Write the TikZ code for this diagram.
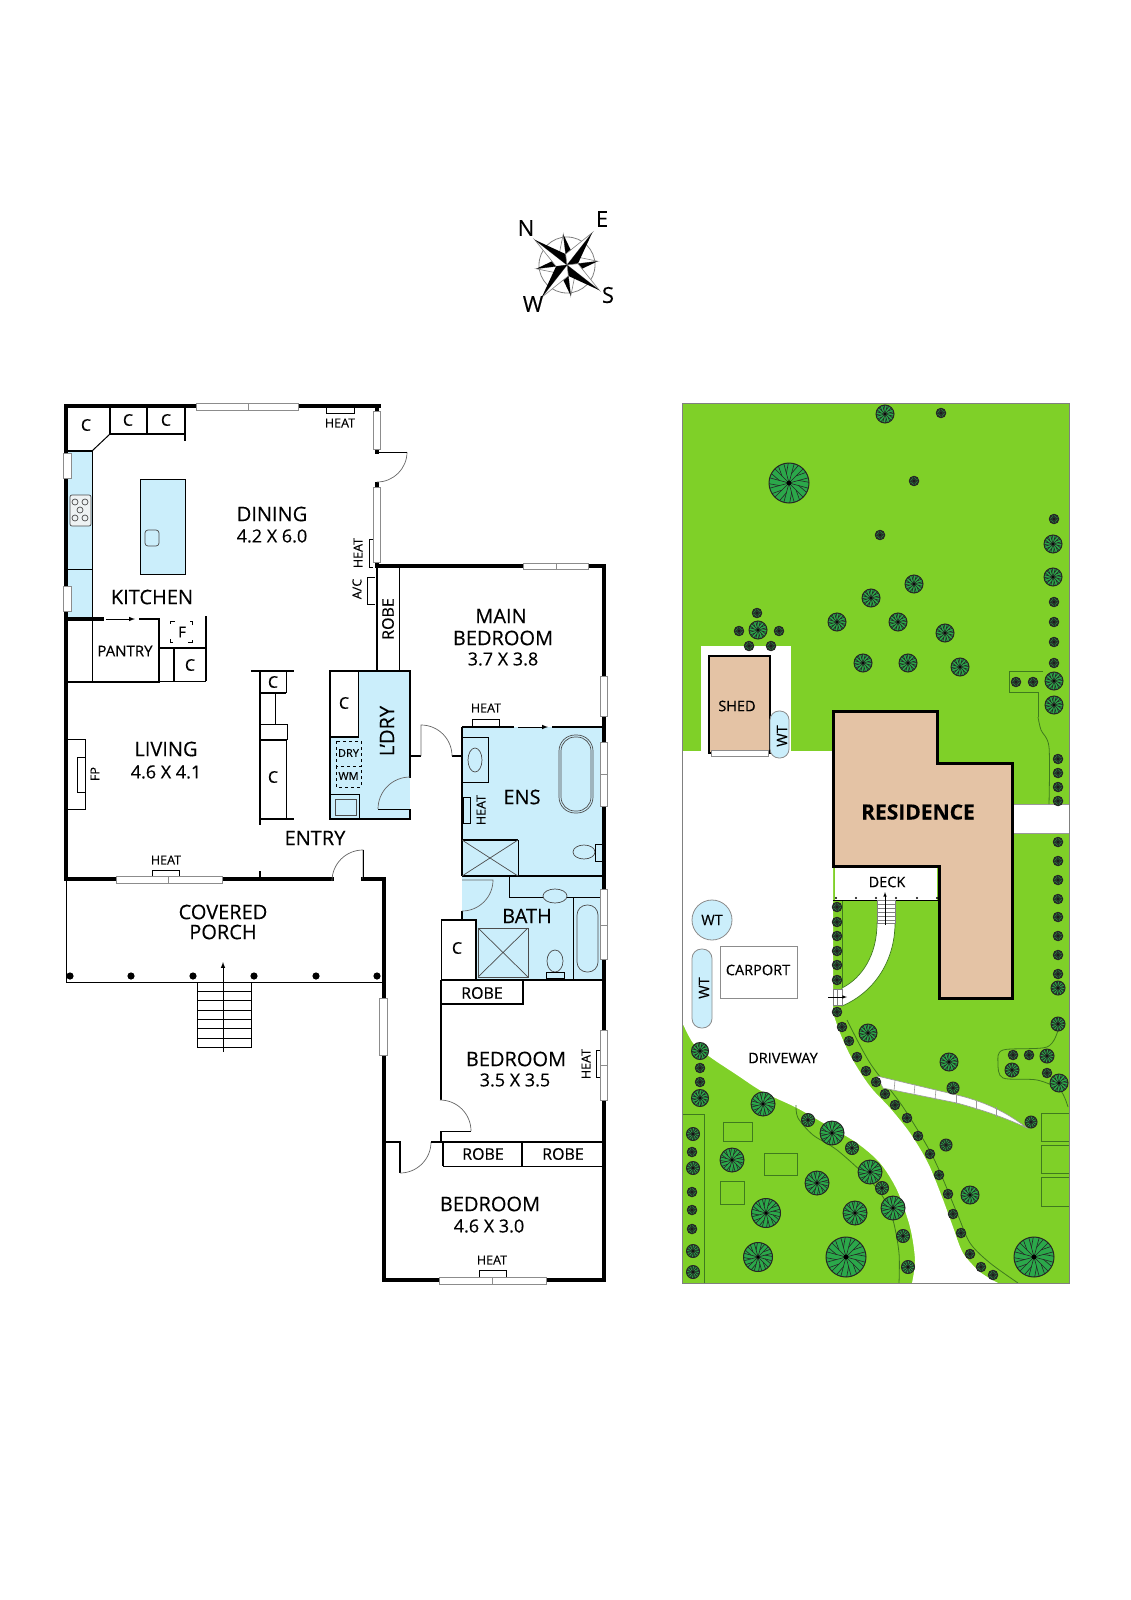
\documentclass[tikz,border=0pt]{standalone}
\usepackage{fontspec}
\setmainfont{Open Sans}[FakeBold=0.3]
\usepackage{xcolor}
\usetikzlibrary{arrows}
\definecolor{wetblue}{HTML}{CBEEFB}
\definecolor{lawngreen}{HTML}{7FD028}
\definecolor{treegreen}{HTML}{2BA84A}
\definecolor{roofbrown}{HTML}{E4C3A5}
\definecolor{edgegreen}{HTML}{3F7A1E}
\tikzset{
  roomlabel/.style={font=\fontsize{20}{20}\selectfont},
  dimlabel/.style={font=\fontsize{18}{18}\selectfont},
  fitlabel/.style={font=\fontsize{16}{16}\selectfont},
  smalllabel/.style={font=\fontsize{12.5}{12.5}\selectfont},
  sitelabel/.style={font=\fontsize{14.5}{14.5}\selectfont},
  wall/.style={line width=3.6pt,line cap=rect},
  midwall/.style={line width=1.9pt},
  thinwall/.style={line width=1pt},
  fixture/.style={line width=0.7pt,draw=black!70},
  windowbox/.style={fill=white,draw=black!45,line width=0.8pt},
  doorswing/.style={line width=0.7pt,draw=black!60},
  bedline/.style={line width=0.8pt,draw=edgegreen},
  treeline/.style={line width=0.6pt,draw=black!85}
}
\newcommand{\planttree}[3]{
  \fill[treegreen] (#1,#2) circle (#3);
  \foreach \a in {15,45,...,345} {
    \draw[treeline] (#1,#2) -- +(\a:#3);
    \draw[treeline] (#1,#2) +(\a:0.5*#3) -- +(\a+13:#3);
  }
  \draw[line width=1pt,draw=black!85] (#1,#2) circle (#3);
  \fill[black] (#1,#2) circle (0.12*#3);
}
\begin{document}
\begin{tikzpicture}[x=1pt,y=-1pt]
\useasboundingbox (0,0) rectangle (1131,1600);

% Compass
\begin{scope}[shift={(567,265)}]
\draw[black!50,line width=0.8pt] (0,0) circle (28);
\foreach \a in {-97,-7,83,173} {
    \filldraw[fill=white,draw=black!50,line width=0.6pt] (0,0) -- (\a:31) -- (\a-45:11) -- cycle;
    \fill[black] (0,0) -- (\a:31) -- (\a+45:11) -- cycle;
}
\foreach \a in {-142,-52,38,128} {
    \filldraw[fill=white,draw=black!50,line width=0.6pt] (0,0) -- (\a:41) -- (\a-45:11) -- cycle;
    \fill[black] (0,0) -- (\a:41) -- (\a+45:11) -- cycle;
}
\end{scope}
\node[font=\fontsize{22}{22}\selectfont] (northmark) at (526,228) {N};
\node[font=\fontsize{22}{22}\selectfont] (eastmark) at (602,219) {E};
\node[font=\fontsize{22}{22}\selectfont] (southmark) at (608,295) {S};
\node[font=\fontsize{22}{22}\selectfont] (westmark) at (533,304) {W};

% Wet areas
\fill[wetblue] (68,451) rectangle (92,618);
\filldraw[fill=wetblue,thinwall] (140,479) rectangle (185,574);
\fill[wetblue] (330,671) rectangle (410,819);
\fill[wetblue] (462,727) rectangle (604,876);
\fill[wetblue] (462,876) rectangle (604,980);
\fill[wetblue] (462,880) -- (493,880) arc[start angle=0,end angle=90,radius=31] -- cycle;

% Kitchen
\draw[thinwall] (92,451) -- (92,682);
\draw[thinwall] (68,569) -- (92,569);
\draw[midwall] (66,451) -- (92,451);
\draw[thinwall] (92,451) -- (110,434);
\draw[line width=1.4pt] (110,434) -- (185,434);
\draw[line width=1.4pt] (110,406) -- (110,434);
\draw[line width=1.4pt] (147,406) -- (147,434);
\draw[midwall] (185,406) -- (185,441);
\filldraw[fill=wetblue!70!black!15,fixture,rounded corners=2pt] (70,495) rectangle (91,526);
\foreach \x/\y in {75/502, 85/502, 80/510, 75/518, 85/518} {
    \draw[fixture] (\x,\y) circle (3);
}
\draw[fixture,rounded corners=3pt] (145,530) rectangle (159,546);
\node[roomlabel] (kitchen) at (152,597) {KITCHEN};
\node[roomlabel] (dining) at (272,514) {DINING};
\node[dimlabel] (diningsize) at (272,536) {4.2 X 6.0};
\node[fitlabel] (cupa) at (86,425) {C};
\node[fitlabel] (cupb) at (128,420) {C};
\node[fitlabel] (cupc) at (166,420) {C};

% Pantry
\draw[wall] (66,619) -- (102,619);
\draw[midwall] (139,619) -- (159,619) -- (159,682) -- (66,682);
\draw[thinwall,-latex] (106,619) -- (135,619);
\draw[midwall] (159,648) -- (206,648);
\draw[midwall] (206,616) -- (206,681);
\draw[midwall] (174,648) -- (174,682);
\draw[thinwall] (159,681) -- (206,681);
\draw[thinwall,dash pattern=on 3pt off 15pt on 3pt off 0pt] (170,621) rectangle (192,642);
\node[fitlabel,font=\fontsize{15}{15}\selectfont] (pantry) at (125,651) {PANTRY};
\node[fitlabel,font=\fontsize{15}{15}\selectfont] (fridge) at (182,632) {F};
\node[fitlabel] (cupd) at (190,665) {C};

% Living
\draw[thinwall] (66,739) rectangle (85,809);
\draw[thinwall] (77,757) rectangle (85,792);
\node[smalllabel,rotate=90] (fireplace) at (95,774) {FP};
\node[roomlabel] (living) at (166,749) {LIVING};
\node[dimlabel] (livingsize) at (166,772) {4.6 X 4.1};
\node[roomlabel] (entry) at (315,838) {ENTRY};
\draw[midwall] (251,671) -- (294,671);
\draw[midwall] (260,671) -- (260,825);
\draw[thinwall] (286,671) -- (286,693);
\draw[midwall] (260,693) -- (286,693);
\draw[thinwall] (275,693) -- (275,724);
\draw[thinwall] (260,724) -- (287,724) -- (287,740);
\draw[midwall] (260,740) -- (287,740);
\draw[thinwall] (286,740) -- (286,819);
\draw[midwall] (260,819) -- (294,819);
\draw[midwall] (260,871) -- (260,879);
\node[fitlabel] (cupe) at (273,682) {C};
\node[fitlabel] (cupf) at (273,777) {C};

% Laundry
\draw[thinwall,fill=white] (330,671) rectangle (358,737);
\draw[midwall] (330,737) -- (358,737);
\draw[midwall] (358,671) -- (330,671) -- (330,819) -- (410,819) -- (410,809);
\draw[midwall] (358,671) -- (410,671) -- (410,778);
\draw[line width=0.9pt,dash pattern=on 3pt off 3pt] (336,741) rectangle (361,766);
\draw[line width=0.9pt,dash pattern=on 3pt off 3pt] (336,766) rectangle (361,787);
\draw[thinwall] (330,794) rectangle (359,819);
\draw[fixture] (335,799) rectangle (356,815);
\draw[thinwall] (378,809) -- (410,809);
\draw[doorswing] (378,809) arc[start angle=180,end angle=270,radius=32];
\node[roomlabel,rotate=90] (laundry) at (387,731) {L’DRY};
\node[fitlabel] (cupg) at (344,703) {C};
\node[font=\fontsize{11}{11}\selectfont] (dryer) at (348.5,753) {DRY};
\node[font=\fontsize{11}{11}\selectfont] (washer) at (348.5,776) {WM};
\draw[midwall] (377,670) -- (377,566);
\draw[thinwall] (399,566) -- (399,670);
\node[fitlabel,rotate=90] (robea) at (388,619) {ROBE};

% Ensuite
\draw[midwall] (462,727) -- (514,727);
\draw[midwall] (552,727) -- (604,727);
\draw[thinwall,-latex] (518,727) -- (548,727);
\draw[midwall] (462,727) -- (462,876);
\draw[midwall] (462,876) -- (604,876);
\draw[thinwall] (472,727) -- (472,719) -- (499,719) -- (499,727);
\node[smalllabel] (heatens) at (486,708) {HEAT};
\draw[thinwall] (462,737) rectangle (488,782);
\draw[fixture] (475,760) ellipse (7 and 12);
\draw[fixture,rounded corners=16pt] (559,735) rectangle (593,813);
\draw[fixture,rounded corners=14pt] (561,737) rectangle (591,811);
\node[roomlabel] (ens) at (522,797) {ENS};
\draw[thinwall] (463,797) rectangle (470,823);
\node[smalllabel,rotate=90] (heatensb) at (481,810) {HEAT};
\draw[midwall] (462,840) -- (518,840);
\draw[thinwall] (518,840) -- (518,876);
\draw[fixture] (462,840) -- (518,876) (462,876) -- (518,840);
\filldraw[fill=wetblue,fixture] (584,852) ellipse (11 and 7);
\draw[thinwall] (595,844) rectangle (602,861);

% Bath
\draw[midwall] (462,911) -- (462,920);
\draw[doorswing] (462,880) -- (493,880) arc[start angle=0,end angle=90,radius=31];
\draw[thinwall] (509,876) -- (509,897) -- (604,897);
\filldraw[fill=wetblue,fixture] (555,896) ellipse (12 and 7);
\draw[thinwall] (573,897) -- (573,979);
\draw[fixture,rounded corners=10pt] (577,905) rectangle (598,972);
\draw[thinwall,fill=white] (441,920) rectangle (476,979);
\draw[midwall] (441,920) -- (476,920) -- (476,979);
\draw[fixture] (478,928) rectangle (528,977);
\draw[fixture] (478,928) -- (528,977) (478,977) -- (528,928);
\filldraw[fill=wetblue,fixture] (555,961) ellipse (8 and 11);
\draw[thinwall] (546,972) rectangle (564,978);
\node[roomlabel] (bath) at (527,916) {BATH};
\node[fitlabel] (cuph) at (457,948) {C};

% Bedrooms
\draw[midwall] (441,980) -- (604,980);
\draw[midwall] (441,980) -- (441,1100);
\draw[midwall] (441,1004) -- (523,1004) -- (523,980);
\draw[midwall] (441,1131) -- (441,1142);
\draw[thinwall] (441,1131) -- (471,1131);
\draw[doorswing] (471,1131) arc[start angle=0,end angle=-90,radius=31];
\draw[midwall] (384,1142) -- (400,1142) -- (400,1173);
\draw[doorswing] (400,1173) arc[start angle=90,end angle=0,radius=31];
\draw[midwall] (431,1142) -- (604,1142);
\draw[midwall] (443,1142) -- (443,1166);
\draw[midwall] (522,1142) -- (522,1166);
\draw[thinwall] (443,1166) -- (604,1166);
\node[fitlabel] (robeb) at (482,993) {ROBE};
\node[fitlabel] (robec) at (483,1154) {ROBE};
\node[fitlabel] (robed) at (563,1154) {ROBE};
\node[roomlabel] (bedroomb) at (516,1059) {BEDROOM};
\node[dimlabel] (bedroombsize) at (515,1080) {3.5 X 3.5};
\node[roomlabel] (bedroomc) at (490,1204) {BEDROOM};
\node[dimlabel] (bedroomcsize) at (489,1226) {4.6 X 3.0};
\node[roomlabel] (mainb) at (501,616) {MAIN};
\node[roomlabel] (mainbb) at (503,638) {BEDROOM};
\node[dimlabel] (mainsize) at (503,659) {3.7 X 3.8};
\node[smalllabel,rotate=90] (heatbed) at (586,1064) {HEAT};
\draw[thinwall] (600,1050) -- (596,1050) -- (596,1077) -- (600,1077);
\node[smalllabel] (heatbedc) at (492,1260) {HEAT};
\draw[thinwall] (479,1278) -- (479,1270) -- (506,1270) -- (506,1278);

% Outer walls
\draw[wall] (379,406) -- (66,406) -- (66,879) -- (332,879);
\draw[wall] (363,879) -- (384,879) -- (384,1280) -- (604,1280) -- (604,566) -- (377,566);
\draw[wall] (377,406) -- (377,409);
\draw[wall] (377,450) -- (377,452);
\draw[wall] (377,484) -- (377,486);
\draw[wall] (377,560) -- (377,566);
\draw[midwall] (410,756) -- (421,756);
\draw[midwall] (452,756) -- (462,756);
\draw[doorswing] (421,756) -- (421,725) arc[start angle=-90,end angle=0,radius=31];
\draw[doorswing] (407,452) arc[start angle=0,end angle=90,radius=30];
\draw[thinwall] (377,452) -- (407,452);
\draw[doorswing] (363,879) -- (363,850) arc[start angle=-90,end angle=-180,radius=31];
\draw[thinwall] (363,850) -- (363,879);

% Windows
\foreach \xa/\ya/\xb/\yb in {196/403/248/410, 248/403/298/410, 373/411/380/449, 373/487/380/562,
    63/453/71/478, 63/586/71/611, 523/563/556/569, 556/563/588/569, 600/676/607/716,
    600/742/607/774, 600/774/607/806, 600/889/607/925, 600/925/607/959, 600/1030/607/1065, 600/1065/607/1100,
    379/998/387/1055, 116/876/168/883, 168/876/222/883, 439/1277/492/1284, 492/1277/546/1284} {
    \filldraw[windowbox] (\xa,\ya) rectangle (\xb,\yb);
}
\draw[thinwall] (326,406) -- (326,413) -- (354,413) -- (354,406);
\node[smalllabel] (heatdining) at (340,423) {HEAT};
\draw[thinwall] (373,539) -- (369,539) -- (369,567) -- (373,567);
\node[smalllabel,rotate=90] (heatdiningb) at (358,553) {HEAT};
\draw[thinwall] (375,577) -- (367,577) -- (367,604) -- (375,604);
\node[smalllabel,rotate=90] (aircon) at (357,589) {A/C};
\draw[thinwall] (152,876) -- (152,870) -- (179,870) -- (179,876);
\node[smalllabel] (heatliving) at (166,860) {HEAT};

% Porch
\draw[thinwall] (66,879) -- (66,982) -- (384,982);
\foreach \x in {70,131,193,254,316,377} {
    \fill[black] (\x,976) circle (3.6);
}
\node[roomlabel] (covered) at (223,912) {COVERED};
\node[roomlabel] (porch) at (223,932) {PORCH};
\draw[thinwall] (197,982) rectangle (251,1047);
\foreach \y in {991,1000,1010,1019,1028,1038} {
    \draw[thinwall] (197,\y) -- (251,\y);
}
\draw[thinwall,-latex] (223,1052) -- (223,962);

% Site
\fill[lawngreen] (682,403) rectangle (1069,1283);
\fill[white] (701,646) rectangle (791,752);
\fill[white] (682,751) -- (833,751) -- (833,1013)
    -- plot[smooth] coordinates {(833,1013) (840,1033) (850,1055) (862,1075) (873,1090) (890,1108) (910,1133) (928,1163) (942,1197) (953,1227) (963,1253) (980,1272) (998,1283)}
    -- plot[smooth] coordinates {(912,1283) (915,1260) (910,1227) (897,1190) (880,1163) (857,1143) (830,1127) (797,1108) (763,1092) (737,1075) (710,1057) (693,1043) (682,1022)}
    -- cycle;
\filldraw[fill=white,draw=black!40,thinwall] (1013,804) rectangle (1069,833);

% Beds
\draw[bedline] plot[smooth] coordinates {(796,1105) (798,1118) (813,1135) (837,1150) (867,1177) (883,1197) (893,1220) (899,1253) (899,1283)};
\draw[bedline] plot[smooth] coordinates {(847,1020) (870,1063) (903,1107) (933,1157) (957,1213) (970,1243) (990,1263) (1018,1283)};
\draw[bedline] plot[smooth] coordinates {(1058,1030) (1047,1047) (1003,1050) (998,1063) (1003,1078) (1037,1080) (1060,1090) (1068,1107)};
\draw[bedline] (1043,671) -- (1009,671) -- (1009,692) -- (1038,692) -- (1038,717);
\draw[bedline] plot[smooth] coordinates {(1038,717) (1041,730) (1049,747) (1049,804)};
\draw[bedline] (682,1114) -- (704,1114) -- (704,1283);
\foreach \xa/\ya/\xb/\yb in {723/1122/752/1141, 764/1153/797/1175, 720/1181/744/1204,
    1041/1113/1069/1141, 1041/1145/1069/1173, 1041/1177/1069/1206} {
    \draw[bedline] (\xa,\ya) rectangle (\xb,\yb);
}
\draw[bedline] (842,900) -- (842,988);
\filldraw[fill=white,draw=black!40,line width=0.6pt] (877,1076) -- (957,1095) .. controls (990,1103) and (1010,1115) .. (1027,1128) .. controls (1010,1120) and (990,1112) .. (957,1103) -- (883,1088) -- cycle;
\foreach \xa/\ya/\xb/\yb in {895/1080/894/1091, 915/1084/914/1095, 936/1089/935/1100, 956/1095/956/1104, 976/1101/976/1110, 996/1107/996/1117} {
    \draw[black!40,line width=0.6pt] (\xa,\ya) -- (\xb,\yb);
}

% Trees
\foreach \tx/\ty/\tr in {885/414/9, 941/413/4.7, 789/483/20, 914/481/4.7, 880/535/4.7, 1054/519/4.7, 1053/544/9, 1053/577/9,
    914/584/9, 871/598/9, 837/622/9, 898/622/9, 945/633/9, 863/663/9, 908/663/9, 960/667/9,
    1054/602/4.7, 1054/622/4.7, 1054/642/4.7, 1054/663/4.7, 1054/681/9, 1054/705/9, 1016/682/4.7, 1033/682/4.7,
    758/630/9, 757/613/4.7, 739/631/4.7, 779/631/4.7, 749/646/4.7, 771/646/4.7,
    1058/759/4.7, 1058/773/4.7, 1058/787/4.7, 1058/801/4.7, 1058/842/4.7, 1058/861/4.7, 1058/880/4.7, 1058/899/4.7,
    1058/917/4.7, 1058/936/4.7, 1058/955/4.7, 1058/974/4.7, 1058/988/7, 1058/1024/7,
    837/907/4.7, 837/922/4.7, 837/936/4.7, 837/951/4.7, 837/965/4.7, 837/980/4.7,
    837/1012/4.7, 842/1027/4.7, 849/1041/4.7, 857/1057/4.7, 866/1071/4.7, 876/1082/4.7, 885/1094/4.7, 895/1105/4.7,
    907/1118/4.7, 918/1136/4.7, 930/1154/4.7, 939/1175/4.7, 948/1194/4.7, 953/1214/4.7, 961/1233/4.7, 970/1254/4.7,
    981/1267/4.7, 993/1275/4.7, 868/1033/9, 949/1062/9, 953/1088/6, 1031/1122/6, 946/1145/6, 970/1195/9, 1034/1257/20,
    1013/1055/4.7, 1029/1055/4.7, 1047/1056/7, 1012/1070/7, 1047/1073/4.7, 1059/1083/9,
    700/1051/8.5, 700/1068/4.7, 700/1082/4.7, 700/1098/8.5, 693/1134/6.5, 692/1152/4.7, 693/1168/6.5, 692/1192/4.7,
    692/1210/4.7, 692/1229/4.7, 693/1251/6.5, 693/1272/6.5, 763/1104/12, 808/1120/6.5, 832/1133/12, 852/1148/6.5,
    732/1160/12, 817/1183/12, 870/1172/12, 882/1188/6.5, 893/1208/12, 766/1213/14.5, 855/1213/12, 903/1236/6.5,
    758/1257/14.5, 846/1257/20, 908/1267/6.5} {
    \planttree{\tx}{\ty}{\tr}
}
\draw[black!50,line width=1pt] (682,403) rectangle (1069,1283);

% Buildings
\filldraw[fill=roofbrown,draw=black,line width=3pt] (833,711) -- (937,711) -- (937,763) -- (1012,763) -- (1012,998) -- (939,998) -- (939,866) -- (833,866) -- cycle;
\filldraw[fill=roofbrown,draw=black,line width=1.5pt] (709,656) rectangle (770,753);
\filldraw[windowbox] (711,750) rectangle (768,756);
\node[font=\fontsize{21}{21}\selectfont\bfseries] (residence) at (918,812) {RESIDENCE};
\node[sitelabel] (shed) at (737,706) {SHED};
\filldraw[fill=wetblue,draw=black!45,line width=0.8pt,rounded corners=9pt] (770,711) rectangle (789,758);
\node[sitelabel,rotate=90] (wta) at (782,736) {WT};
\filldraw[fill=wetblue,draw=black!45,line width=0.8pt] (712,920) circle (20);
\node[sitelabel] (wtb) at (712,920) {WT};
\filldraw[fill=wetblue,draw=black!45,line width=0.8pt,rounded corners=9.5pt] (692,949) rectangle (712,1028);
\node[sitelabel,rotate=90] (wtc) at (704,988) {WT};
\filldraw[fill=white,draw=black!45,line width=0.8pt] (720,946) rectangle (797,998);
\node[sitelabel] (carport) at (758,970) {CARPORT};
\node[sitelabel] (driveway) at (783,1058) {DRIVEWAY};

% Deck
\fill[white] (835,868) rectangle (937,900);
\draw[black,line width=0.6pt] (833,900) -- (939,900);
\node[sitelabel] (deck) at (887,882) {DECK};
\foreach \x in {836,856,876,896,917,937} {
    \fill[black] (\x,898) circle (1.1);
}
\filldraw[fill=white,draw=edgegreen,line width=0.7pt] (877,923) .. controls (877,955) and (862,978) .. (842,988) -- (842,1006) .. controls (875,992) and (895,960) .. (895,923) -- cycle;
\filldraw[fill=white,draw=black!50,line width=0.6pt] (877,900) rectangle (895,923);
\foreach \y in {904,908,912,916,920} {
    \draw[black!50,line width=0.6pt] (877,\y) -- (895,\y);
}
\draw[line width=0.6pt,-latex] (885,925) -- (885,892);
\filldraw[fill=white,draw=black!50,line width=0.6pt] (833,989) rectangle (842,1005);
\draw[black!50,line width=0.6pt] (837,989) -- (837,1005);
\draw[line width=0.6pt,-latex] (828,997) -- (847,997);
\end{tikzpicture}
\end{document}
